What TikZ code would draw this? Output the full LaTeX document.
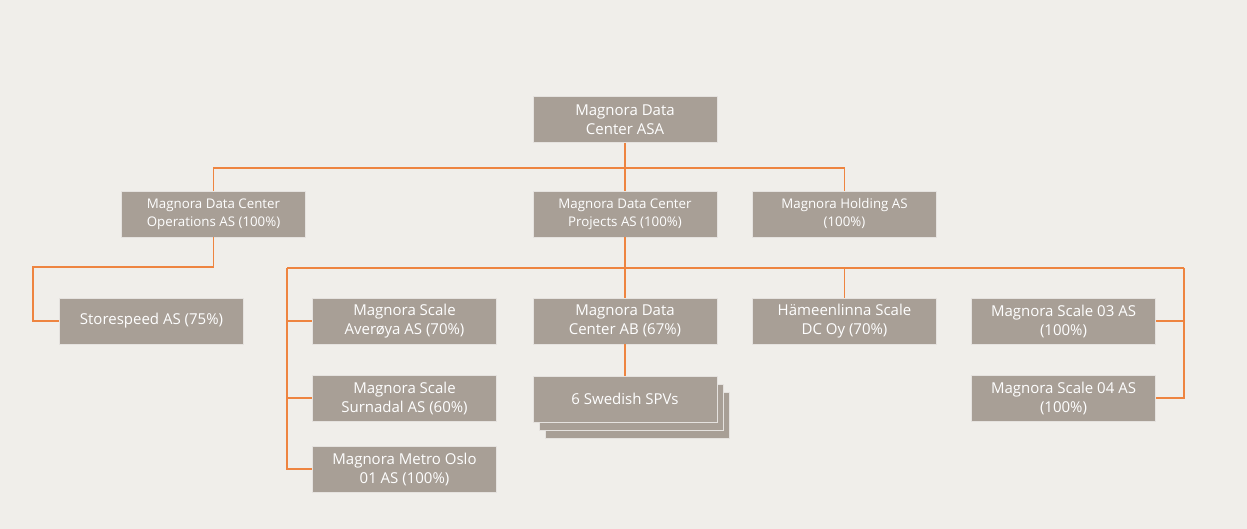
\documentclass[tikz,border=0pt]{standalone}
\usepackage{fontspec}
\setmainfont{Open Sans}
\definecolor{bgcol}{HTML}{F0EEEA}
\definecolor{boxcol}{HTML}{A89F96}
\definecolor{linecol}{HTML}{EE8440}
\tikzset{
  unit/.style={fill=boxcol, draw=white!70!boxcol, line width=0.6pt, text=white,
    minimum width=184pt, minimum height=46pt, align=center, inner sep=0pt,
    font=\fontsize{13.3}{18}\selectfont},
  big/.style={font=\fontsize{15}{19}\selectfont},
  link/.style={draw=linecol, line width=1.4pt},
}
\begin{document}
\begin{tikzpicture}[x=1pt,y=-1pt]
  \useasboundingbox[fill=bgcol] (0,0) rectangle (1247,529);
  \draw
    (625,119.5) node[unit,big] (asa){Magnora Data\\Center ASA}
    (213.5,214) node[unit] (ops){Magnora Data Center\\Operations AS (100\%)}
    (625,214) node[unit] (proj){Magnora Data Center\\Projects AS (100\%)}
    (844.5,214) node[unit] (hold){Magnora Holding AS\\(100\%)}
    (151.5,321) node[unit,big] (store){Storespeed AS (75\%)}
    (404.5,321) node[unit,big] (avero){Magnora Scale\\Averøya AS (70\%)}
    (625,321) node[unit,big] (dcab){Magnora Data\\Center AB (67\%)}
    (844.5,321) node[unit,big] (hame){Hämeenlinna Scale\\DC Oy (70\%)}
    (1063.5,321) node[unit,big] (sc03){Magnora Scale 03 AS\\(100\%)}
    (404.5,398) node[unit,big] (surn){Magnora Scale\\Surnadal AS (60\%)}
    (637,415) node[unit] (spvc){}
    (631,407) node[unit] (spvb){}
    (625,399) node[unit,big] (spv){6 Swedish SPVs}
    (1063.5,398) node[unit,big] (sc04){Magnora Scale 04 AS\\(100\%)}
    (404.5,469) node[unit,big] (metro){Magnora Metro Oslo\\01 AS (100\%)};
  \coordinate (topbus) at (625,168);
  \coordinate (opsbend) at (33,267);
  \coordinate (busl) at (287,268);
  \coordinate (busr) at (1184,268);
  \begin{scope}[link]
    \draw (asa) -- (proj);
    \draw (ops.north) |- (topbus) -| (hold.north);
    \draw (ops.south) |- (opsbend) |- (store.west);
  \end{scope}
  \begin{scope}[link, line width=1.8pt]
    \draw (busl) -- (busr);
    \draw (proj) -- (dcab);
    \draw (dcab) -- (spv);
    \draw (hame.north) -- (hame.north |- busl);
    \draw (busl) |- (metro.west);
    \draw (busl) |- (avero.west);
    \draw (busl) |- (surn.west);
    \draw (busr) |- (sc03.east);
    \draw (busr) |- (sc04.east);
  \end{scope}
\end{tikzpicture}
\end{document}
